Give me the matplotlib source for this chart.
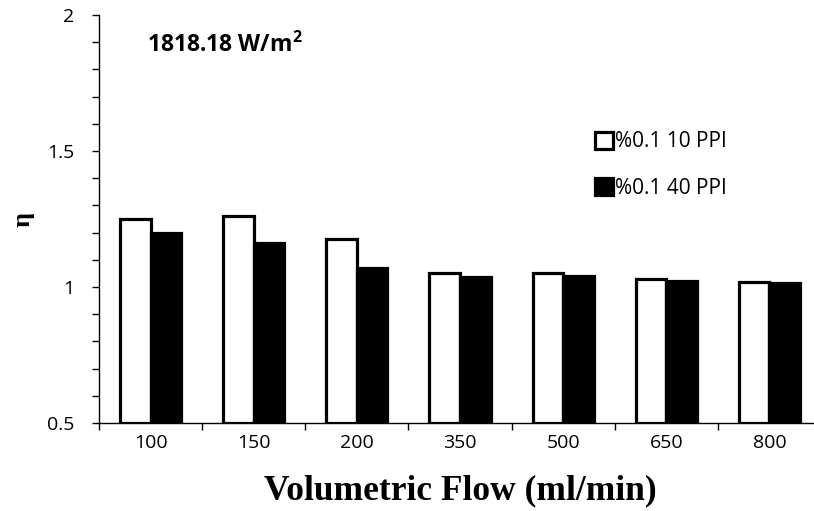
import numpy as np
import matplotlib.pyplot as plt
from matplotlib.ticker import MultipleLocator, FixedLocator, NullFormatter, FixedFormatter

flows = ["100", "150", "200", "350", "500", "650", "800"]
eta_10ppi = [1.25, 1.26, 1.175, 1.05, 1.05, 1.03, 1.02]
eta_40ppi = [1.20, 1.16, 1.07, 1.035, 1.04, 1.023, 1.014]
series_labels = ["%0.1 10 PPI", "%0.1 40 PPI"]

plt.rcParams["mathtext.fontset"] = "custom"
plt.rcParams["mathtext.bf"] = "Open Sans:bold"
plt.rcParams["mathtext.rm"] = "Open Sans"

fig = plt.figure(figsize=(8.14, 5.11), dpi=100)
ax = fig.add_axes([99 / 814, 1 - 423 / 511, 722 / 814, (423 - 15) / 511])

base = 0.5
x = np.arange(len(flows))
w = 0.296
lw = 2.3
ax.bar(x - w / 2, np.array(eta_10ppi) - base, w, bottom=base, color="white",
       edgecolor="black", linewidth=lw, label=series_labels[0])
ax.bar(x + w / 2, np.array(eta_40ppi) - base, w, bottom=base, color="black",
       edgecolor="black", linewidth=lw, label=series_labels[1])

ax.set_xlim(-0.5, len(flows) - 0.5)
ax.set_ylim(0.5, 2.0)

for s in ["top", "right"]:
    ax.spines[s].set_visible(False)
for s in ["left", "bottom"]:
    ax.spines[s].set_linewidth(1.0)

ax.yaxis.set_major_locator(MultipleLocator(0.5))
ax.yaxis.set_minor_locator(MultipleLocator(0.1))
ax.yaxis.set_major_formatter(plt.FuncFormatter(lambda v, p: f"{v:g}"))
ax.tick_params(axis="y", which="major", direction="out", length=5, width=1,
               labelsize=14, pad=13)
ax.tick_params(axis="y", which="minor", direction="out", length=5, width=1)

# category boundaries carry the ticks, labels sit at group centres
ax.xaxis.set_major_locator(FixedLocator(np.arange(-0.5, len(flows), 1.0)))
ax.xaxis.set_major_formatter(NullFormatter())
ax.xaxis.set_minor_locator(FixedLocator(x))
ax.xaxis.set_minor_formatter(FixedFormatter(flows))
ax.tick_params(axis="x", which="major", direction="out", length=5, width=1)
ax.tick_params(axis="x", which="minor", length=0, labelsize=14, pad=8)

for lab in ax.get_xticklabels(minor=True) + ax.get_yticklabels():
    lab.set_fontfamily("Open Sans")

ax.set_xlabel("Volumetric Flow (ml/min)", fontfamily="Liberation Serif",
              fontweight="bold", fontsize=25.5, labelpad=16)
ax.set_ylabel("η", fontfamily="Liberation Serif", fontweight="bold",
              fontsize=19, labelpad=9)

ax.text(0.067, 0.925, "1818.18 W/m$^\\mathbf{2}$", transform=ax.transAxes,
        fontsize=16.5, fontweight="bold", fontfamily="Open Sans", va="center")

leg = ax.legend(loc="upper left", bbox_to_anchor=(585 / 814, 1 - 121 / 511),
                bbox_transform=fig.transFigure, frameon=False, borderpad=0,
                handlelength=0.85, handleheight=0.85, handletextpad=0.1,
                labelspacing=1.22, prop={"family": "Open Sans", "size": 15})

fig.savefig("out.png", dpi=100)
